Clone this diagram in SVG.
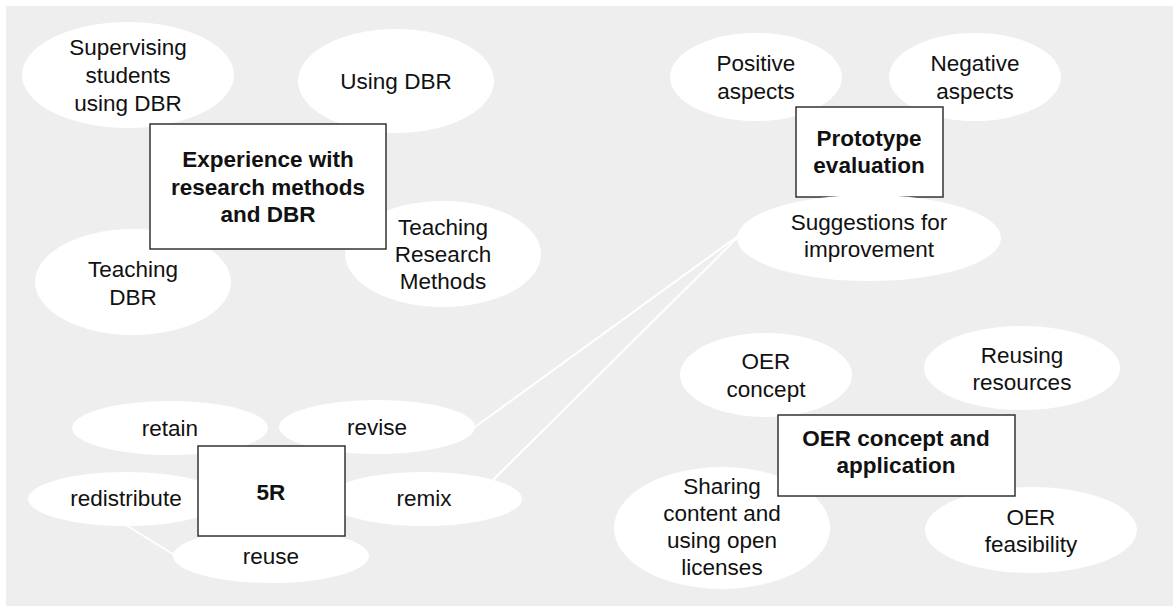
<svg xmlns="http://www.w3.org/2000/svg" width="1173" height="606" viewBox="0 0 1173 606">
  <style>
    .bubble { fill: #ffffff; }
    .topic { fill: #ffffff; stroke: #333333; stroke-width: 1.5; }
    .link { stroke: #ffffff; stroke-width: 2; fill: none; }
    text { font-family: "Liberation Sans", Arial, sans-serif; font-size: 22.5px; fill: #111111; text-anchor: middle; }
    .bold { font-weight: bold; }
  </style>

  <!-- canvas -->
  <rect x="0" y="0" width="1173" height="606" fill="#ffffff"/>
  <rect x="6" y="6" width="1167" height="600" fill="#eeeeee"/>

  <!-- connectors -->
  <g id="connectors">
    <line class="link" x1="475" y1="427" x2="738" y2="236"/>
    <line class="link" x1="493" y1="480" x2="738" y2="237"/>
    <line class="link" x1="126" y1="525" x2="176" y2="556"/>
  </g>

  <!-- Experience with research methods and DBR -->
  <g id="node-supervising">
    <ellipse class="bubble" cx="128" cy="75" rx="106" ry="53"/>
    <text x="128" y="55">Supervising</text>
    <text x="128" y="83">students</text>
    <text x="128" y="111">using DBR</text>
  </g>
  <g id="node-using-dbr">
    <ellipse class="bubble" cx="396" cy="81" rx="98" ry="52"/>
    <text x="396" y="89">Using DBR</text>
  </g>
  <g id="node-teaching-dbr">
    <ellipse class="bubble" cx="133" cy="282" rx="98" ry="53"/>
    <text x="133" y="277">Teaching</text>
    <text x="133" y="305">DBR</text>
  </g>
  <g id="node-teaching-rm">
    <ellipse class="bubble" cx="443" cy="254" rx="98" ry="53"/>
    <text x="443" y="235">Teaching</text>
    <text x="443" y="262">Research</text>
    <text x="443" y="289">Methods</text>
  </g>
  <g id="node-experience">
    <rect class="topic" x="150" y="124" width="236" height="125"/>
    <text class="bold" x="268" y="167">Experience with</text>
    <text class="bold" x="268" y="195">research methods</text>
    <text class="bold" x="268" y="222">and DBR</text>
  </g>

  <!-- Prototype evaluation -->
  <g id="node-positive">
    <ellipse class="bubble" cx="756" cy="77" rx="86" ry="44"/>
    <text x="756" y="71">Positive</text>
    <text x="756" y="99">aspects</text>
  </g>
  <g id="node-negative">
    <ellipse class="bubble" cx="975" cy="77" rx="86" ry="44"/>
    <text x="975" y="71">Negative</text>
    <text x="975" y="99">aspects</text>
  </g>
  <g id="node-prototype">
    <rect class="topic" x="796" y="107" width="147" height="90"/>
    <text class="bold" x="869" y="146">Prototype</text>
    <text class="bold" x="869" y="173">evaluation</text>
  </g>
  <g id="node-suggestions">
    <ellipse class="bubble" cx="869" cy="238" rx="132" ry="43"/>
    <text x="869" y="230">Suggestions for</text>
    <text x="869" y="257">improvement</text>
  </g>

  <!-- OER concept and application -->
  <g id="node-oer-concept">
    <ellipse class="bubble" cx="766" cy="375" rx="86" ry="42"/>
    <text x="766" y="369">OER</text>
    <text x="766" y="397">concept</text>
  </g>
  <g id="node-reusing">
    <ellipse class="bubble" cx="1022" cy="368" rx="98" ry="42"/>
    <text x="1022" y="363">Reusing</text>
    <text x="1022" y="390">resources</text>
  </g>
  <g id="node-sharing">
    <ellipse class="bubble" cx="722" cy="528" rx="108" ry="61"/>
    <text x="722" y="494">Sharing</text>
    <text x="722" y="521">content and</text>
    <text x="722" y="548">using open</text>
    <text x="722" y="575">licenses</text>
  </g>
  <g id="node-feasibility">
    <ellipse class="bubble" cx="1031" cy="530" rx="106" ry="43"/>
    <text x="1031" y="525">OER</text>
    <text x="1031" y="552">feasibility</text>
  </g>
  <g id="node-oer">
    <rect class="topic" x="778" y="415" width="237" height="81"/>
    <text class="bold" x="896" y="446">OER concept and</text>
    <text class="bold" x="896" y="473">application</text>
  </g>

  <!-- 5R -->
  <g id="node-retain">
    <ellipse class="bubble" cx="170" cy="428" rx="98" ry="27"/>
    <text x="170" y="436">retain</text>
  </g>
  <g id="node-revise">
    <ellipse class="bubble" cx="377" cy="427" rx="98" ry="27"/>
    <text x="377" y="435">revise</text>
  </g>
  <g id="node-redistribute">
    <ellipse class="bubble" cx="126" cy="499" rx="98" ry="27"/>
    <text x="126" y="506">redistribute</text>
  </g>
  <g id="node-remix">
    <ellipse class="bubble" cx="424" cy="499" rx="98" ry="27"/>
    <text x="424" y="506">remix</text>
  </g>
  <g id="node-reuse">
    <ellipse class="bubble" cx="271" cy="556" rx="98" ry="27"/>
    <text x="271" y="564">reuse</text>
  </g>
  <g id="node-5r">
    <rect class="topic" x="198" y="446" width="147" height="90"/>
    <text class="bold" x="271" y="500">5R</text>
  </g>
</svg>
